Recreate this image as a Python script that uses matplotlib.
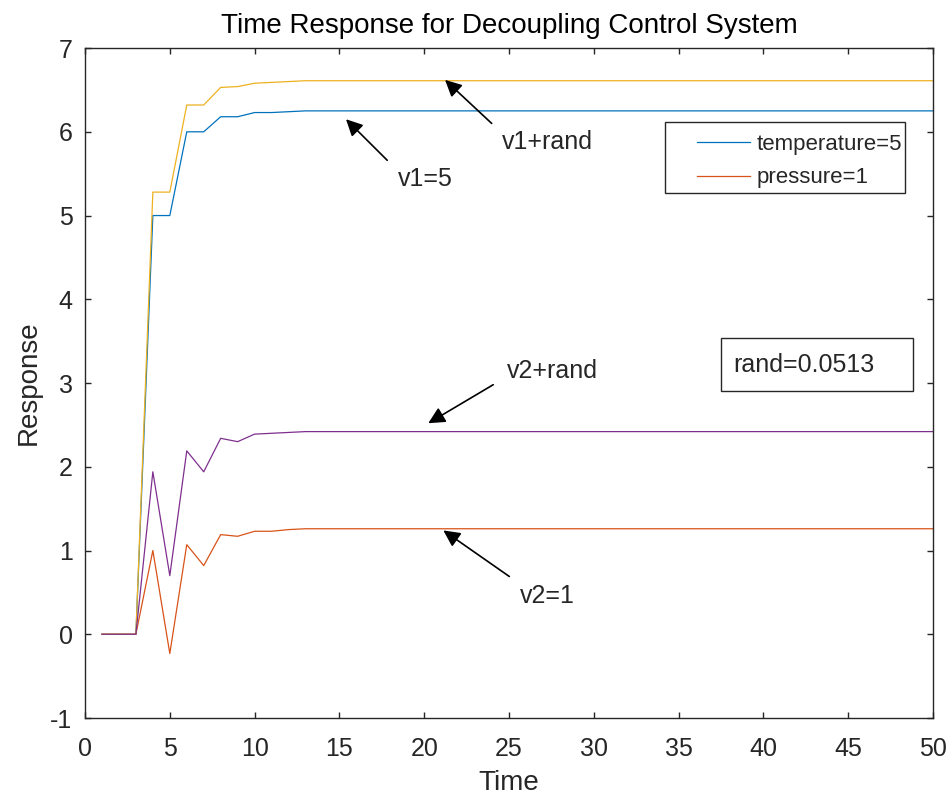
import matplotlib
matplotlib.use("Agg")
import matplotlib.pyplot as plt
from matplotlib.patches import Rectangle

time = list(range(1, 51))
temperature = [0, 0, 0, 5.0, 5.0, 6.0, 6.0, 6.18, 6.18, 6.23, 6.23, 6.24] + [6.25] * 38
pressure = [0, 0, 0, 1.0, -0.23, 1.07, 0.82, 1.19, 1.17, 1.23, 1.23, 1.25] + [1.26] * 38
v1_rand = [0, 0, 0, 5.28, 5.28, 6.32, 6.32, 6.53, 6.54, 6.58, 6.59, 6.60] + [6.61] * 38
v2_rand = [0, 0, 0, 1.94, 0.70, 2.19, 1.94, 2.34, 2.30, 2.39, 2.40, 2.41] + [2.42] * 38

legend_labels = ["temperature=5", "pressure=1"]
rand_text = "rand=0.0513"

plt.rcParams['font.family'] = ['Liberation Sans', 'DejaVu Sans']
plt.rcParams['axes.unicode_minus'] = False

fig = plt.figure(figsize=(9.52, 8.01), dpi=100)
ax = fig.add_axes([0.0893, 0.1036, 0.8907, 0.8364])

c_blue = "#0072BD"
c_orange = "#D95319"
c_yellow = "#EDB120"
c_purple = "#7E2F8E"
txt = '#262626'

l1, = ax.plot(time, temperature, color=c_blue, lw=0.9)
l2, = ax.plot(time, pressure, color=c_orange, lw=0.9)
ax.plot(time, v1_rand, color=c_yellow, lw=0.9)
ax.plot(time, v2_rand, color=c_purple, lw=0.9)

ax.set_xlim(0, 50)
ax.set_ylim(-1, 7)
ax.set_xticks(range(0, 51, 5))
ax.set_yticks(range(-1, 8))
ax.tick_params(axis='both', direction='in', top=True, right=True, labelsize=18,
               length=4.5, width=1.0, color=txt, labelcolor=txt)
ax.tick_params(axis='x', pad=14)
ax.tick_params(axis='y', pad=9)
for s in ax.spines.values():
    s.set_color(txt)
    s.set_linewidth(1.0)

ax.set_title("Time Response for Decoupling Control System", fontsize=20, color='#000000', pad=11)
ax.set_xlabel("Time", fontsize=20, color=txt, labelpad=6)
ax.set_ylabel("Response", fontsize=20, color=txt, labelpad=6)

# legend (box drawn separately to match padding)
leg = ax.legend([l1, l2], legend_labels, loc='upper left', bbox_to_anchor=(0.7217, 0.8716),
                fontsize=16, frameon=False, borderaxespad=0, borderpad=0,
                handlelength=2.4, handletextpad=0.3, labelspacing=0.55)
for t in leg.get_texts():
    t.set_color(txt)
ax.add_patch(Rectangle((0.684, 0.7836), 0.283, 0.106, transform=ax.transAxes,
                       fill=True, fc='white', ec=txt, lw=1.0, zorder=4))
leg.set_zorder(5)

arrow = dict(arrowstyle='-|>,head_length=1.0,head_width=0.5', color='black', lw=1.2,
             shrinkA=0, shrinkB=0)
ann = [
    ("v1+rand", (21.23, 6.62), (23.98, 6.10), (24.6, 5.88)),
    ("v1=5", (15.39, 6.15), (17.82, 5.66), (18.46, 5.44)),
    ("v2+rand", (20.24, 2.52), (24.07, 2.98), (24.86, 3.14)),
    ("v2=1", (21.13, 1.24), (25.02, 0.69), (25.65, 0.46)),
]
for label, head, tail, tpos in ann:
    ax.annotate("", xy=head, xytext=tail, arrowprops=arrow)
    ax.text(tpos[0], tpos[1], label, fontsize=18, ha='left', va='center', color=txt)

ax.add_patch(Rectangle((0.7496, 0.488), 0.2272, 0.0787, transform=ax.transAxes,
                       fill=True, fc='white', ec=txt, lw=1.0, zorder=4))
ax.text(0.764, 0.527, rand_text, transform=ax.transAxes, fontsize=18, ha='left',
        va='center', color=txt, zorder=5)

fig.savefig("out.png", dpi=100)
